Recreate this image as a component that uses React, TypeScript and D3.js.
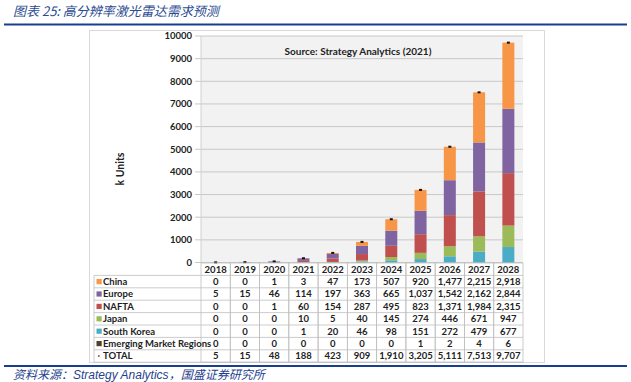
import React from "react";
import * as d3 from "d3";

const years = ["2018", "2019", "2020", "2021", "2022", "2023", "2024", "2025", "2026", "2027", "2028"];
const china = [0, 0, 1, 3, 47, 173, 507, 920, 1477, 2215, 2918];
const europe = [5, 15, 46, 114, 197, 363, 665, 1037, 1542, 2162, 2844];
const nafta = [0, 0, 1, 60, 154, 287, 495, 823, 1371, 1984, 2315];
const japan = [0, 0, 0, 10, 5, 40, 145, 274, 446, 671, 947];
const southKorea = [0, 0, 0, 1, 20, 46, 98, 151, 272, 479, 677];
const emerging = [0, 0, 0, 0, 0, 0, 0, 1, 2, 4, 6];
const total = [5, 15, 48, 188, 423, 909, 1910, 3205, 5111, 7513, 9707];
const yTicks = [0, 1000, 2000, 3000, 4000, 5000, 6000, 7000, 8000, 9000, 10000];

const seriesTable = [
  { name: "China", values: china, color: "#f79646" },
  { name: "Europe", values: europe, color: "#8064a2" },
  { name: "NAFTA", values: nafta, color: "#c0504d" },
  { name: "Japan", values: japan, color: "#9bbb59" },
  { name: "South Korea", values: southKorea, color: "#4bacc6" },
  { name: "Emerging Market Regions", values: emerging, color: "#4a452a" },
];
// stacking order bottom -> top
const stackOrder = ["Emerging Market Regions", "South Korea", "Japan", "NAFTA", "Europe", "China"];

const W = 631;
const H = 382;
const plotL = 201;
const plotR = 523;
const plotT = 36;
const plotB = 262.5;
const rowH = 12.4;
const headerTop = 263;
const tableL = 94;

const fmt = d3.format(",");
const FONT = "Lato, 'Open Sans', sans-serif";
const FS = 9.5;

export default function App() {
  const x = d3.scaleBand<string>().domain(years).range([plotL, plotR]).padding(0);
  const xBar = d3.scaleBand<string>().domain(years).range([plotL, plotR]).paddingInner(0.59).paddingOuter(0.295);
  const y = d3.scaleLinear().domain([0, 10000]).range([plotB, plotT]);

  const rows = years.map((yr, i) => {
    const r: any = { year: yr };
    seriesTable.forEach((s) => (r[s.name] = s.values[i]));
    return r;
  });
  const stack = d3.stack<any>().keys(stackOrder)(rows);
  const colorOf = (n: string) => seriesTable.find((s) => s.name === n)!.color;

  const tableRows = [...seriesTable.map((s) => ({ name: s.name, values: s.values, color: s.color, total: false })), { name: "TOTAL", values: total, color: "#000", total: true }];
  const tableBottom = headerTop + rowH * (tableRows.length + 1);

  return (
    <svg width={W} height={H} style={{ position: "absolute", left: 0, top: 0 }}>
      <rect x={0} y={0} width={W} height={H} fill="#fff" />
      {/* title */}
      <text x={13} y={16} fontFamily="'Noto Sans CJK SC', sans-serif" fontStyle="italic" fontSize={13} fill="#2c4c92">
        图表 25:  高分辨率激光雷达需求预测
      </text>
      <line x1={4} x2={627} y1={24.5} y2={24.5} stroke="#173f8d" strokeWidth={2.2} />

      {/* chart frame */}
      <rect x={89.5} y={30.5} width={455} height={332} fill="#fff" stroke="#d9d9d9" />

      {/* plot area */}
      <rect x={plotL} y={plotT} width={plotR - plotL} height={plotB - plotT} fill="#f2f2f2" />
      {yTicks.map((t) => (
        <g key={t}>
          <line x1={195} x2={plotR} y1={y(t)} y2={y(t)} stroke="#c8c8c8" strokeWidth={1} />
          <text x={192} y={y(t)} dy="0.35em" textAnchor="end" fontFamily={FONT} fontWeight={700} fontSize={FS} fill="#222">
            {t}
          </text>
        </g>
      ))}
      <line x1={plotL} x2={plotL} y1={plotT} y2={plotB} stroke="#d0d0d0" />

      <text transform={`translate(124,169) rotate(-90)`} textAnchor="middle" fontFamily={FONT} fontWeight={700} fontSize={10.5} fill="#222">
        k Units
      </text>
      <text x={358} y={55} textAnchor="middle" fontFamily={FONT} fontWeight={700} fontSize={10} fill="#222">
        Source:  Strategy Analytics (2021)
      </text>

      {/* bars */}
      {stack.map((layer) => (
        <g key={layer.key} fill={colorOf(layer.key)}>
          {layer.map((d, i) => (
            <rect key={i} x={xBar(years[i])!} width={xBar.bandwidth()} y={y(d[1])} height={Math.max(0, y(d[0]) - y(d[1]))} />
          ))}
        </g>
      ))}
      {/* total markers */}
      {total.map((t, i) => (
        <rect key={i} x={xBar(years[i])! + xBar.bandwidth() / 2 - 1.5} y={y(t) - 1} width={3} height={2} fill="#111" />
      ))}

      {/* data table */}
      {years.map((yr) => (
        <g key={yr}>
          <rect x={x(yr)!} y={headerTop} width={x.bandwidth()} height={tableBottom - headerTop} fill="none" stroke="#bfbfbf" strokeWidth={0.8} />
          <text x={x(yr)! + x.bandwidth() / 2} y={headerTop + rowH / 2} dy="0.35em" textAnchor="middle" fontFamily={FONT} fontWeight={700} fontSize={FS} fill="#222">
            {yr}
          </text>
        </g>
      ))}
      {tableRows.map((r, ri) => {
        const top = headerTop + rowH * (ri + 1);
        return (
          <g key={r.name}>
            <line x1={tableL} x2={plotR} y1={top} y2={top} stroke="#bfbfbf" strokeWidth={0.8} />
            {r.total ? (
              <rect x={98} y={top + rowH / 2 - 0.8} width={1.6} height={1.6} fill="#555" />
            ) : (
              <rect x={96.5} y={top + rowH / 2 - 2.6} width={5.2} height={5.2} fill={r.color} />
            )}
            <text x={103} y={top + rowH / 2} dy="0.35em" fontFamily={FONT} fontWeight={700} fontSize={FS} fill="#222">
              {r.name}
            </text>
            {r.values.map((v, i) => (
              <text key={i} x={x(years[i])! + x.bandwidth() / 2} y={top + rowH / 2} dy="0.35em" textAnchor="middle" fontFamily={FONT} fontWeight={700} fontSize={FS} fill="#222">
                {fmt(v)}
              </text>
            ))}
          </g>
        );
      })}
      <line x1={tableL} x2={tableL} y1={headerTop + rowH} y2={tableBottom} stroke="#bfbfbf" strokeWidth={0.8} />
      <line x1={tableL} x2={plotR} y1={tableBottom} y2={tableBottom} stroke="#bfbfbf" strokeWidth={0.8} />

      {/* footer */}
      <line x1={4} x2={627} y1={366} y2={366} stroke="#173f8d" strokeWidth={2.2} />
      <text x={13} y={379} fontFamily="'Noto Sans CJK SC', sans-serif" fontStyle="italic" fontSize={12} fill="#1f3f8f">
        资料来源：<tspan fontFamily="'Liberation Sans', Arial, sans-serif">Strategy Analytics</tspan>，国盛证券研究所
      </text>
    </svg>
  );
}
